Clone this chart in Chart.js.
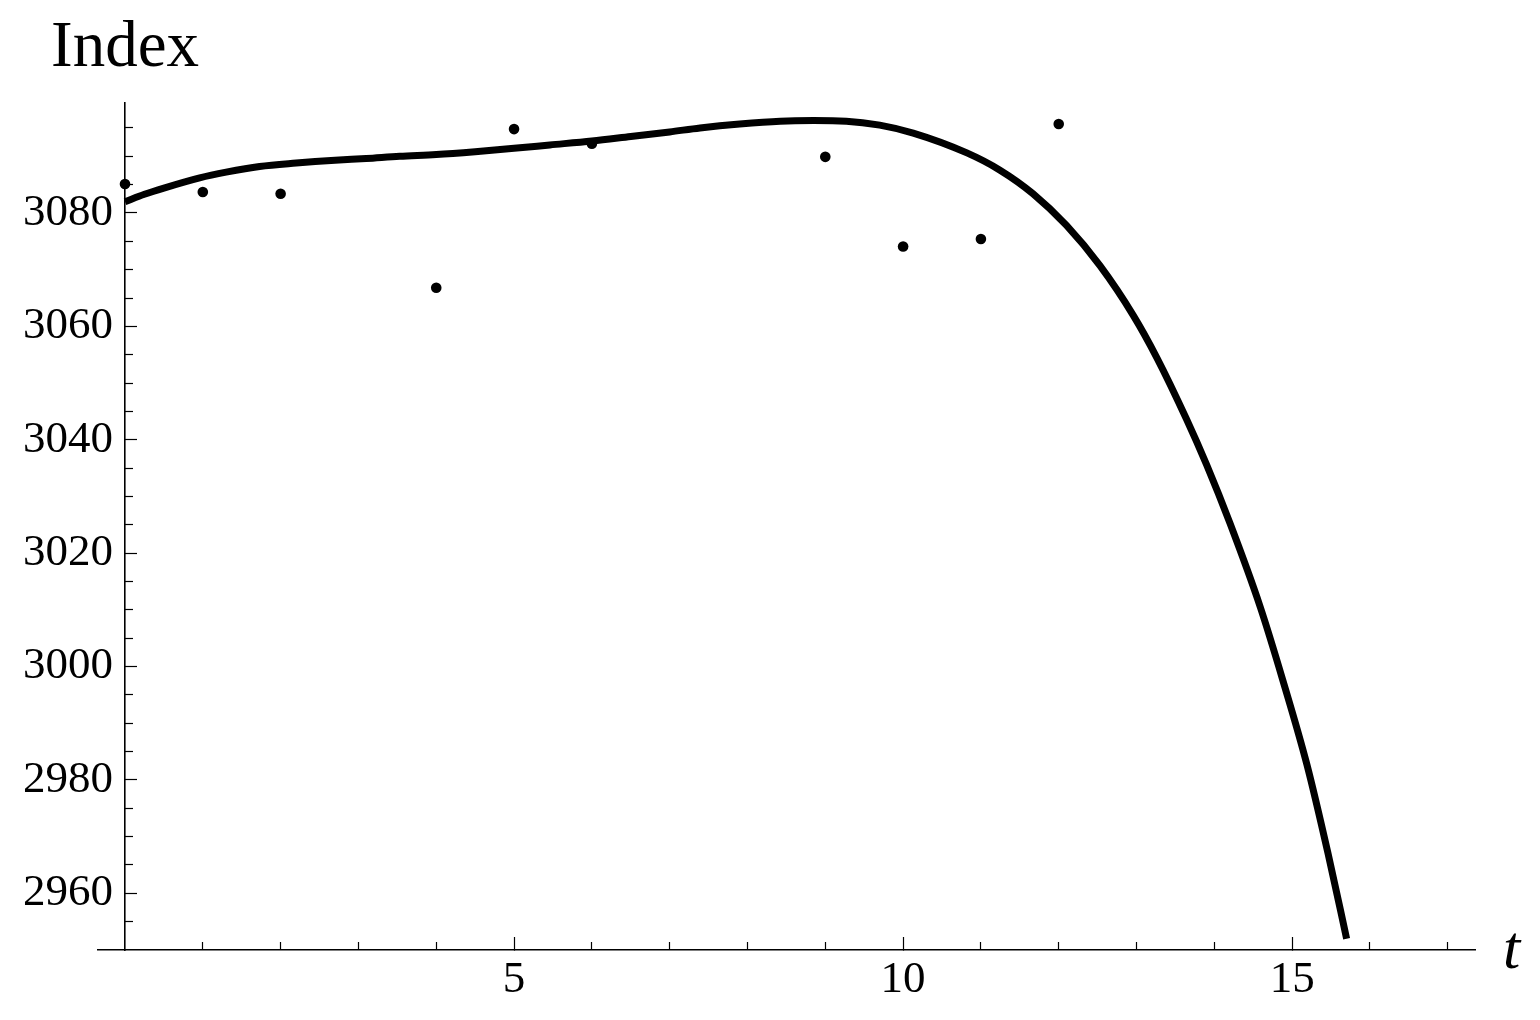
<!DOCTYPE html>
<html>
<head>
<meta charset="utf-8">
<script src="https://cdn.jsdelivr.net/npm/chart.js@4.4.1/dist/chart.umd.min.js"></script>
<style>
  html, body { margin: 0; padding: 0; background: #ffffff; }
  #wrap { width: 1540px; height: 1020px; }
</style>
</head>
<body>
<div id="wrap"><canvas id="c" width="1540" height="1020"></canvas></div>
<script>
// ---- data ----
const pointT     = [0, 1, 2, 4, 5, 6, 9, 10, 11, 12];
const pointIndex = [3085.1, 3083.7, 3083.4, 3066.8, 3094.8, 3092.2, 3089.9, 3074.1, 3075.4, 3095.7];

const fitT     = [0, 0.25, 0.5, 0.96, 1.3, 1.73, 2.2, 2.7, 3.1, 3.53, 4.0, 4.5, 5.0, 5.46, 6.0, 6.5, 7.0, 7.39, 7.9, 8.42, 8.85, 9.27, 9.7, 10.13, 10.82, 11.24, 11.67, 12.10, 12.53, 12.96, 13.26, 13.64, 13.90, 14.20, 14.59, 14.88, 15.19, 15.46, 15.70];
const fitIndex = [3082.0, 3083.3, 3084.4, 3086.2, 3087.2, 3088.2, 3088.8, 3089.3, 3089.6, 3090.0, 3090.3, 3090.8, 3091.4, 3092.0, 3092.7, 3093.5, 3094.3, 3095.0, 3095.7, 3096.2, 3096.3, 3096.2, 3095.5, 3094.1, 3090.6, 3087.6, 3083.4, 3077.8, 3070.7, 3061.9, 3054.5, 3043.7, 3035.6, 3025.3, 3010.5, 2997.6, 2982.7, 2967.1, 2952.0];

const xMajorTicks = [5, 10, 15];
const xMinorTicks = [1, 2, 3, 4, 6, 7, 8, 9, 11, 12, 13, 14, 16, 17];
const yMajorTicks = [2960, 2980, 3000, 3020, 3040, 3060, 3080];
const yMinorTicks = [2955, 2965, 2970, 2975, 2985, 2990, 2995, 3005, 3010, 3015, 3025, 3030, 3035, 3045, 3050, 3055, 3065, 3070, 3075, 3085, 3090, 3095];

const xLabel = 't';
const yLabel = 'Index';

const X_MIN = -0.347, X_MAX = 17.35;
const Y_MIN = 2950, Y_MAX = 3099.4;

// ---- chart ----
const SERIF = "'Liberation Serif', 'Times New Roman', serif";
const tickFont = { family: SERIF, size: 45 };
const toTicks = arr => arr.map(v => ({ value: v }));

const axisTitles = {
  id: 'axisTitles',
  afterDraw(chart) {
    const { ctx, chartArea: a } = chart;
    ctx.save();
    ctx.fillStyle = '#000';
    ctx.textAlign = 'left';
    ctx.textBaseline = 'alphabetic';
    ctx.font = "65px " + SERIF;
    ctx.fillText(yLabel, a.left - 47, a.top - 37);
    ctx.font = "italic 62px " + SERIF;
    ctx.fillText(xLabel, a.right + 28, a.bottom + 18);
    ctx.restore();
  }
};

new Chart(document.getElementById('c'), {
  type: 'scatter',
  data: {
    datasets: [
      {
        label: 'points',
        data: pointT.map((t, i) => ({ x: t, y: pointIndex[i] })),
        showLine: false,
        pointRadius: 5.3,
        pointBackgroundColor: '#000',
        pointBorderWidth: 0,
        order: 1
      },
      {
        label: 'fit',
        data: fitT.map((t, i) => ({ x: t, y: fitIndex[i] })),
        showLine: true,
        borderColor: '#000',
        borderWidth: 7,
        pointRadius: 0,
        fill: false,
        cubicInterpolationMode: 'monotone',
        borderCapStyle: 'butt',
        order: 2
      }
    ]
  },
  options: {
    responsive: false,
    devicePixelRatio: 1,
    animation: false,
    layout: { padding: { left: 98, right: 65, top: 103, bottom: 0 } },
    plugins: { legend: { display: false }, tooltip: { enabled: false }, title: { display: false } },
    scales: {
      x: {
        type: 'linear', axis: 'x', position: 'bottom', min: X_MIN, max: X_MAX,
        afterBuildTicks: s => { s.ticks = toTicks(xMajorTicks); },
        afterFit: s => { s.height = 70; },
        grid: { drawOnChartArea: false, tickLength: -13, tickColor: '#000', tickWidth: 1.2 },
        border: { display: true, color: '#000', width: 1.6 },
        ticks: { font: tickFont, color: '#000', padding: 16, maxRotation: 0, autoSkip: false, callback: v => String(v) }
      },
      xm: {
        type: 'linear', axis: 'x', position: { y: Y_MIN }, min: X_MIN, max: X_MAX,
        afterBuildTicks: s => { s.ticks = toTicks(xMinorTicks); },
        grid: { drawOnChartArea: false, tickLength: -8, tickColor: '#000', tickWidth: 1.2 },
        border: { display: false },
        ticks: { display: false, autoSkip: false }
      },
      y: {
        type: 'linear', axis: 'y', position: { x: 0 }, min: Y_MIN, max: Y_MAX,
        afterBuildTicks: s => { s.ticks = toTicks(yMajorTicks); },
        grid: { drawOnChartArea: false, tickLength: -13, tickColor: '#000', tickWidth: 1.2 },
        border: { display: true, color: '#000', width: 1.6 },
        ticks: { display: false, autoSkip: false }
      },
      ym: {
        type: 'linear', axis: 'y', position: { x: 0 }, min: Y_MIN, max: Y_MAX,
        afterBuildTicks: s => { s.ticks = toTicks(yMinorTicks); },
        grid: { drawOnChartArea: false, tickLength: -8, tickColor: '#000', tickWidth: 1.2 },
        border: { display: false },
        ticks: { display: false, autoSkip: false }
      },
      yl: {
        type: 'linear', axis: 'y', position: 'left', min: Y_MIN, max: Y_MAX,
        afterBuildTicks: s => { s.ticks = toTicks(yMajorTicks); },
        afterFit: s => { s.width = 0; },
        grid: { display: false },
        border: { display: false },
        ticks: { font: tickFont, color: '#000', mirror: true, crossAlign: 'far', padding: -75, autoSkip: false, callback: v => String(v) }
      }
    }
  },
  plugins: [axisTitles]
});
</script>
</body>
</html>
